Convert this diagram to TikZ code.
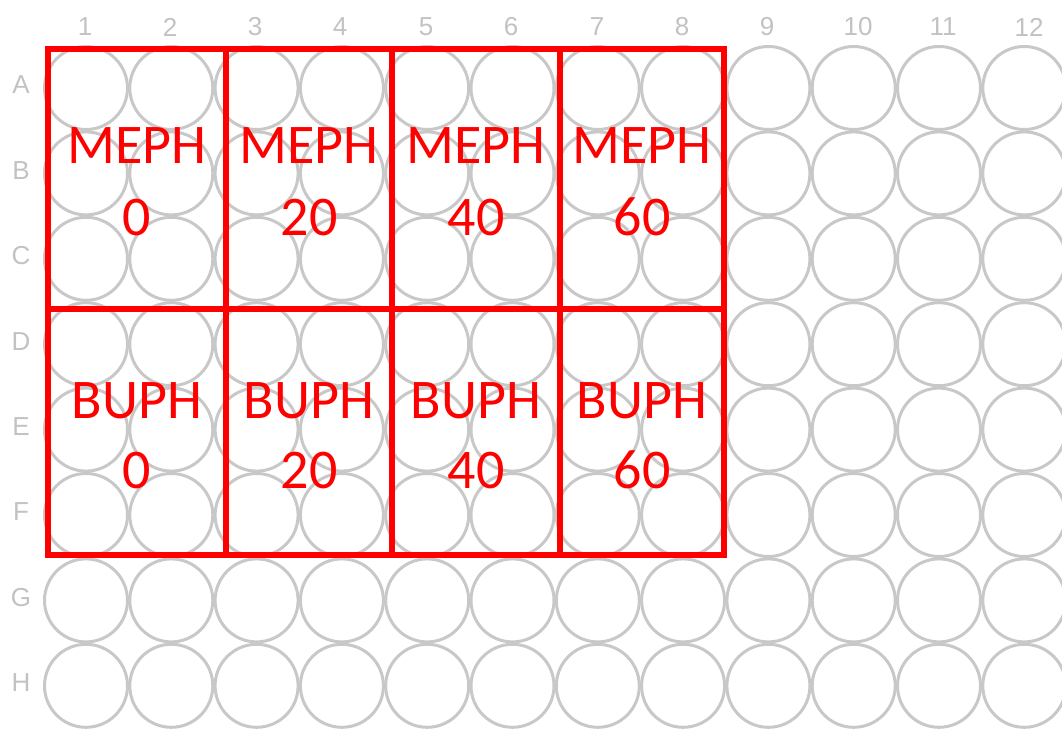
\documentclass[tikz,border=0pt]{standalone}
\usepackage{fontspec}
\setmainfont{Carlito}
\newfontfamily\lblfont{Liberation Sans}
\definecolor{wellgray}{HTML}{C8C8C8}
\definecolor{labelgray}{HTML}{C2C2C2}
\definecolor{plateRed}{HTML}{FF0000}
\tikzset{
  well/.style={circle, draw=wellgray, line width=3pt, minimum size=83pt, inner sep=0pt},
  axislbl/.style={text=labelgray, font=\lblfont\fontsize{26}{26}\selectfont, inner sep=0pt},
  groupbox/.style={draw=plateRed, line width=6pt},
  grouptxt/.style={text=plateRed, font=\fontsize{56}{60}\selectfont, anchor=base, inner sep=0pt}
}
\begin{document}
\begin{tikzpicture}[x=1pt,y=-1pt]
\useasboundingbox (0,0) rectangle (1062,730);
\clip (0,0) rectangle (1062,730);
% wells
\foreach \r [count=\ri from 0] in {A,B,C,D,E,F,G,H}{
  \foreach \c in {1,...,12}{
    \node[well] (w\r\c) at ({86+(\c-1)*85.3},{88+\ri*85.4}) {};
  }
}
% column labels
\foreach \c/\xx in {1/85,2/170,3/255,4/340,5/426,6/511,7/597,8/682,9/767,10/858,11/943,12/1029}{
  \node[axislbl] (col\c) at (\xx,27) {\c};
}
% row labels
\foreach \r [count=\ri from 0] in {A,B,C,D,E,F,G,H}{
  \node[axislbl] (row\r) at (21,{85+\ri*85.4}) {\r};
}
% group boxes
\foreach \i/\xa/\xb in {1/48/226,2/226/392,3/392/560,4/560/724}{
  \node[groupbox, minimum width={\xb-\xa}, minimum height=260, inner sep=0pt] (m\i) at ({(\xa+\xb)/2},179) {};
  \node[groupbox, minimum width={\xb-\xa}, minimum height=246, inner sep=0pt] (b\i) at ({(\xa+\xb)/2},432) {};
}
% texts
\foreach \i/\xx/\v in {1/137/0,2/309/20,3/476/40,4/642/60}{
  \node[grouptxt] (mt\i) at (\xx,164) {MEPH};
  \node[grouptxt] (mn\i) at (\xx,235) {\v};
  \node[grouptxt] (bt\i) at (\xx,418) {BUPH};
  \node[grouptxt] (bn\i) at (\xx,488) {\v};
}
\end{tikzpicture}
\end{document}
